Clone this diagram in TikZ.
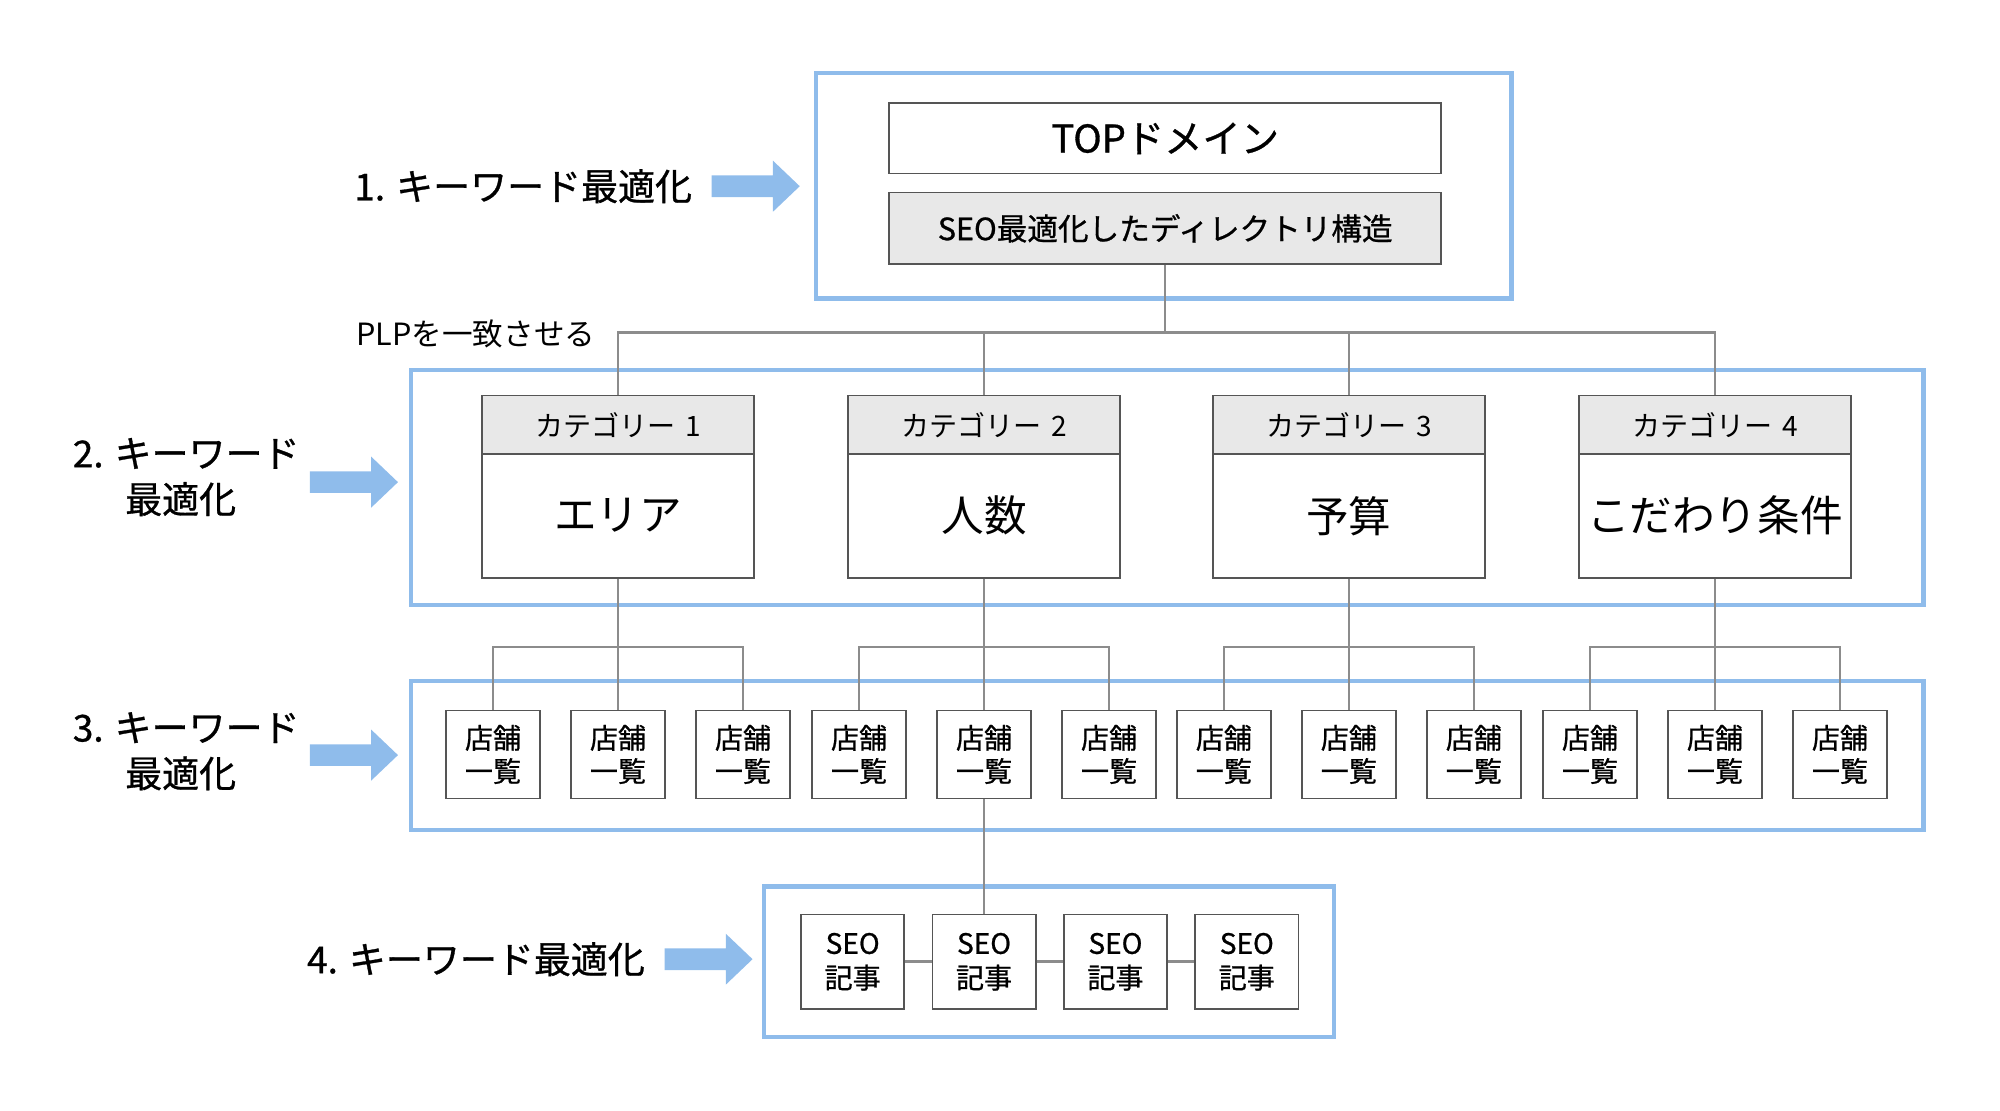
\documentclass[tikz,border=0pt]{standalone}
\usepackage{fontspec}
\setmainfont{Noto Sans CJK JP}
\newfontfamily\medfont[FakeBold=0.8]{Noto Sans CJK JP}
\definecolor{bl}{HTML}{8FBCEB}
\definecolor{hd}{HTML}{E8E8E8}
\definecolor{cn}{HTML}{8C8C8C}
\definecolor{bd}{HTML}{555555}
\tikzset{
  bluebox/.style={draw=bl, line width=1.6pt, inner sep=0pt},
  box/.style={draw=bd, line width=0.7pt, fill=white, inner sep=0pt, align=center},
  hdbox/.style={box, fill=hd},
  conn/.style={draw=cn, line width=1pt},
  lab/.style={inner sep=0pt, align=center, font=\medfont\fontsize{14.5pt}{18pt}\selectfont},
  shop/.style={box, minimum width=37pt, minimum height=34.5pt, font=\medfont\fontsize{11pt}{13pt}\selectfont},
  art/.style={box, minimum width=40.5pt, minimum height=37pt, font=\medfont\fontsize{11pt}{13.5pt}\selectfont},
  barrow/.pic={\fill[bl] (0,-8.5) -- (48,-8.5) -- (48,-20) -- (69,0) -- (48,20) -- (48,8.5) -- (0,8.5) -- cycle;}
}
\begin{document}
\begin{tikzpicture}[x=0.5pt,y=-0.5pt]
\useasboundingbox (0,0) rectangle (1568,871);
% blue frames
\node[bluebox, minimum width=272.5pt, minimum height=88.5pt] (g1) at (912.5,145.5) {};
\node[bluebox, minimum width=593pt, minimum height=92pt] (g2) at (915,382) {};
\node[bluebox, minimum width=593pt, minimum height=58.5pt] (g3) at (915,592.5) {};
\node[bluebox, minimum width=223.5pt, minimum height=59pt] (g4) at (822.5,754) {};
% top
\node[box, minimum width=216.5pt, minimum height=27.5pt, font=\medfont\fontsize{15pt}{18pt}\selectfont] (top) at (913.5,108.5) {TOPドメイン};
\node[hdbox, minimum width=216.5pt, minimum height=28pt, font=\medfont\fontsize{12pt}{14pt}\selectfont] (seo) at (913.5,179) {SEO最適化したディレクトリ構造};
% categories
\foreach \c/\x/\t in {1/484.5/エリア,2/771.5/人数,3/1057.5/予算,4/1344.5/こだわり条件} {
  \node[hdbox, minimum width=106.5pt, minimum height=23pt, font=\fontsize{11pt}{13pt}\selectfont] (ch\c) at (\x,333) {カテゴリー\hspace{0.35em}\c};
  \node[box, minimum width=106.5pt, minimum height=48.5pt, font=\fontsize{16.7pt}{19pt}\selectfont] (cb\c) at (\x,404.5) {\raisebox{1.5pt}{\t}};
  \foreach \k/\d in {1/-98,2/0,3/98}
    \node[shop] (s\c-\k) at (\x+\d,591.5) {店舗\\一覧};
}
% articles
\foreach \k/\x in {1/668.5,2/771.5,3/874.5,4/977.5}
  \node[art] (e\k) at (\x,754) {SEO\\記事};
% labels
\node[anchor=west, inner sep=0pt, font=\fontsize{12pt}{14pt}\selectfont] (plp) at (279,262) {PLPを一致させる};
\node[lab, anchor=east] (l1) at (543,146) {1. キーワード最適化};
\node[lab] (l2) at (146,374) {2. キーワード\\\hspace*{-0.3em}最適化};
\node[lab] (l3) at (146,589) {3. キーワード\\\hspace*{-0.3em}最適化};
\node[lab, anchor=east] (l4) at (506,752) {4. キーワード最適化};
% arrows
\pic (a1) at (558,146) {barrow};
\pic (a2) at (243,378) {barrow};
\pic (a3) at (243,592) {barrow};
\pic (a4) at (521,752) {barrow};
% connectors
\draw[conn] (seo.south) -- ++(0,53) coordinate (hub);
\draw[conn] (ch1.north) |- (hub) -| (ch4.north);
\draw[conn] (ch2.north) -- (ch2.north |- hub);
\draw[conn] (ch3.north) -- (ch3.north |- hub);
\foreach \c in {1,2,3,4} {
  \draw[conn] (cb\c.south) -- (s\c-2.north);
  \draw[conn] (s\c-1.north) -- ++(0,-49) -| (s\c-3.north);
}
\draw[conn] (s2-2.south) -- (e2.north);
\draw[conn] (e1) -- (e2) -- (e3) -- (e4);
\end{tikzpicture}
\end{document}
